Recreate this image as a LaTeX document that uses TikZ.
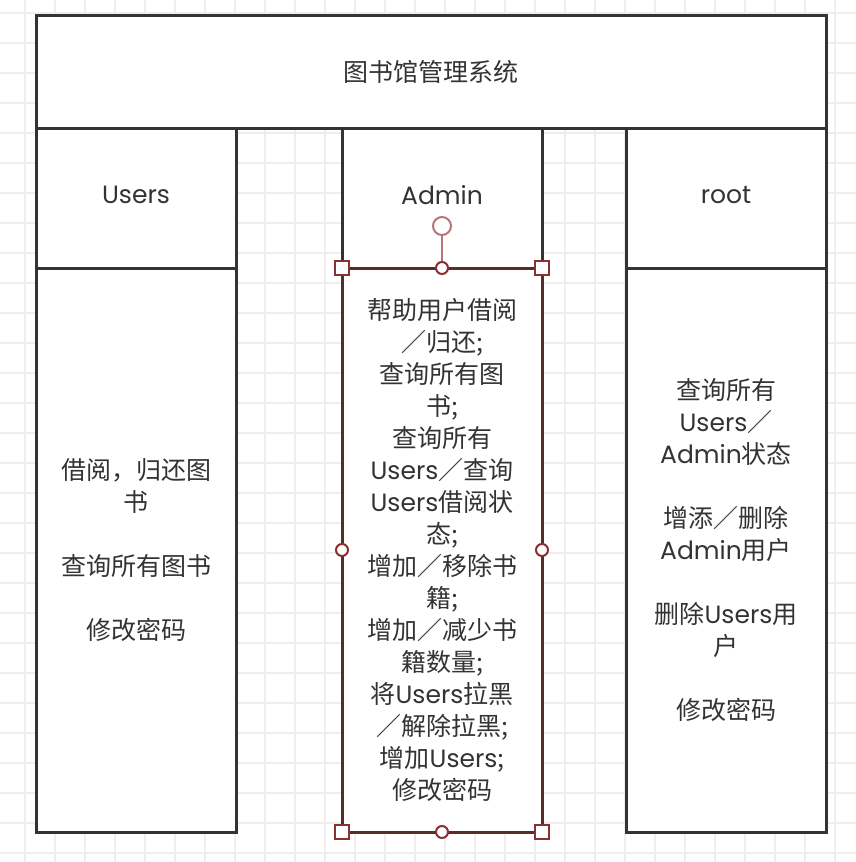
\documentclass[tikz,border=0pt]{standalone}
\usepackage{fontspec}
\setmainfont{Noto Sans CJK SC}
\newfontfamily\latin{Poppins}
\usetikzlibrary{positioning}
\definecolor{ink}{HTML}{333333}
\definecolor{gridline}{HTML}{EEEEEE}
\definecolor{sel}{HTML}{8B3030}
\definecolor{selfaint}{HTML}{B87575}
\newcommand{\en}[1]{{\latin #1}}
\tikzset{basic/.style={draw=ink,line width=3pt,fill=white,outer sep=0pt,text=ink,
  align=center,font=\fontsize{25pt}{32pt}\selectfont}}
\tikzset{head/.style={basic,minimum width=200pt,minimum height=140pt,anchor=north west,text depth=6pt}}
\tikzset{body/.style={basic,minimum width=200pt,minimum height=564pt}}
\tikzset{hsq/.style={draw=sel,line width=2pt,fill=white,minimum size=14pt,inner sep=0pt}}
\tikzset{hdot/.style={circle,draw=sel,line width=2pt,fill=white,minimum size=12pt,inner sep=0pt}}

\begin{document}
\begin{tikzpicture}[
		x=1pt, y=-1pt, % pixel coordinates, y downwards
		rot/.style={circle,draw=selfaint,line width=2pt,fill=white,minimum size=18pt,inner sep=0pt}
		]
		\useasboundingbox (0,0) rectangle (856,862);
		
		% Grid
		\foreach \x in {25,55,...,835}
		\draw[gridline,line width=2pt] (\x,0) -- (\x,862);
		\foreach \y in {13,43,...,853}
		\draw[gridline,line width=2pt] (0,\y) -- (856,\y);
		
		% Title
		\node[basic,minimum width=790pt,minimum height=113pt,anchor=north west] (sys) at (36,15) {图书馆管理系统};
		
		% Headers
		\node[head] (uh) at (36,128) {\en{Users}};
		\node[head] (ah) at (342,128) {\en{Admin}};
		\node[head] (rh) at (626,128) {\en{root}};
		
		% Bodies
		\node[body] (ub) [below=0pt of uh] {借阅，归还图\\书\\[32pt]查询所有图书\\[32pt]修改密码};
		\node[body,draw={rgb,255:red,85;green,45;blue,45}] (ab) [below=0pt of ah] {帮助用户借阅\\／归还;\\查询所有图\\书;\\查询所有\\\en{Users}／查询\\\en{Users}借阅状\\态;\\增加／移除书\\籍;\\增加／减少书\\籍数量;\\将\en{Users}拉黑\\／解除拉黑;\\增加\en{Users};\\修改密码};
		\node[body] (rb) [below=0pt of rh] {查询所有\\\en{Users}／\\\en{Admin}状态\\[32pt]增添／删除\\\en{Admin}用户\\[32pt]删除\en{Users}用\\户\\[32pt]修改密码};
		
		% Selection handles
		\node[rot] (turn) at (442,226) {};
		\draw[selfaint,line width=2pt] (turn) -- (ab.north);
		\foreach \a/\n in {north west/1,north east/2,south west/3,south east/4}
		\node[hsq] (sq\n) at (ab.\a) {};
		\foreach \a/\n in {north/1,south/2,west/3,east/4}
		\node[hdot] (dot\n) at (ab.\a) {};
\end{tikzpicture}
\end{document}
